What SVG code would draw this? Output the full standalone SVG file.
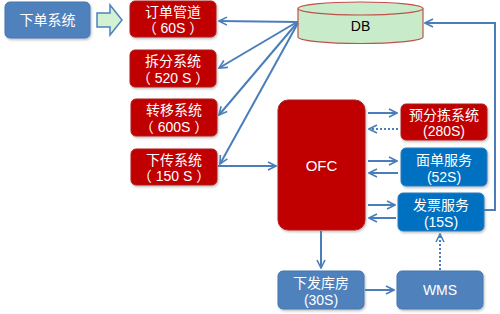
<svg xmlns="http://www.w3.org/2000/svg" width="500" height="314" viewBox="0 0 500 314">
<defs>
<marker id="ah" viewBox="0 0 10 10" refX="9" refY="5" markerWidth="5" markerHeight="5" orient="auto" markerUnits="strokeWidth">
<path d="M1,1 L9,5 L1,9" fill="none" stroke="#4a7ebb" stroke-width="1.6"/>
</marker>
<filter id="sh" x="-10%" y="-10%" width="130%" height="130%">
<feDropShadow dx="1" dy="1.5" stdDeviation="1.2" flood-color="#000" flood-opacity="0.25"/>
</filter>
</defs>
<style>
text{font-family:"Liberation Sans","Noto Sans CJK SC",sans-serif;font-size:14px;fill:#fff;text-anchor:middle}
.red{fill:#c00000;stroke:#b02020;stroke-width:1;filter:url(#sh)}
.blu{fill:#0070c0;stroke:#2a7cc0;stroke-width:1;filter:url(#sh)}
.stl{fill:#4f81bd;stroke:#4576b0;stroke-width:1;filter:url(#sh)}
.ln{fill:none;stroke:#4a7ebb;stroke-width:2;marker-end:url(#ah)}
.dt{stroke-dasharray:2 2}
</style>
<rect width="500" height="314" fill="#fff"/>

<g id="xiadan">
<rect class="stl" x="5" y="2" width="85" height="36" rx="5"/>
<text x="47.5" y="25">下单系统</text>
</g>
<g id="bigarrow">
<path d="M97,13 L110,13 L110,5 L122,20 L110,35 L110,27 L97,27 Z" fill="#d3f1d3" stroke="#4f81bd" stroke-width="1.5"/>
</g>

<g id="dingdan">
<rect class="red" x="130" y="1" width="86" height="36" rx="5"/>
<text x="173" y="17">订单管道</text>
<text x="173" y="33">（ 60S ）</text>
</g>
<g id="chaifen">
<rect class="red" x="130" y="50" width="86" height="37" rx="5"/>
<text x="173" y="66">拆分系统</text>
<text x="173" y="83">（ 520 S ）</text>
</g>
<g id="zhuanyi">
<rect class="red" x="131" y="99" width="86" height="37" rx="5"/>
<text x="174" y="115">转移系统</text>
<text x="174" y="132">（ 600S ）</text>
</g>
<g id="xiachuan">
<rect class="red" x="131" y="149" width="86" height="36" rx="5"/>
<text x="174" y="165">下传系统</text>
<text x="174" y="181">（ 150 S ）</text>
</g>

<g id="db">
<path d="M298,8.5 L298,37 A62.5,6.5 0 0 0 423,37 L423,8.5" fill="#c8ecc9" stroke="#c0504d" stroke-width="1.2"/>
<ellipse cx="360.5" cy="8.5" rx="62.5" ry="6.5" fill="#c8ecc9" stroke="#c0504d" stroke-width="1.2"/>
<text x="360.5" y="31" style="fill:#000">DB</text>
</g>

<g id="ofc">
<rect class="red" x="278" y="100" width="87" height="130" rx="10"/>
<text x="321.5" y="171" style="font-size:15px">OFC</text>
</g>

<g id="yufenjian">
<rect class="red" x="401" y="104" width="86" height="36" rx="5"/>
<text x="444" y="120">预分拣系统</text>
<text x="444" y="136">(280S)</text>
</g>
<g id="miandan">
<rect class="blu" x="401" y="148" width="86" height="38" rx="5"/>
<text x="444" y="165">面单服务</text>
<text x="444" y="182">(52S)</text>
</g>
<g id="fapiao">
<rect class="blu" x="398" y="193" width="86" height="38" rx="5"/>
<text x="441" y="210">发票服务</text>
<text x="441" y="227">(15S)</text>
</g>
<g id="kufang">
<rect class="stl" x="278" y="271" width="86" height="38" rx="5"/>
<text x="321" y="288">下发库房</text>
<text x="321" y="305">(30S)</text>
</g>
<g id="wms">
<rect class="stl" x="397" y="271" width="86" height="38" rx="5"/>
<text x="440" y="295">WMS</text>
</g>

<g id="connectors">
<path class="ln" d="M298,22 L219,21"/>
<path class="ln" d="M297,22 L219,68"/>
<path class="ln" d="M297,23 L219,115"/>
<path class="ln" d="M298,23 L220,164"/>
<path class="ln" d="M218,166 L276,166"/>
<path class="ln" d="M484,210 L495,210 L495,23 L425,23"/>
<path class="ln" d="M368,113 L397,113"/>
<path class="ln dt" d="M398,129 L369,129"/>
<path class="ln" d="M368,161 L397,161"/>
<path class="ln" d="M398,173 L369,173"/>
<path class="ln" d="M368,205 L395,205"/>
<path class="ln" d="M396,218 L369,218"/>
<path class="ln" d="M321,231 L321,268"/>
<path class="ln" d="M365,290 L394,290"/>
<path class="ln dt" d="M440,270 L440,234"/>
</g>
</svg>
